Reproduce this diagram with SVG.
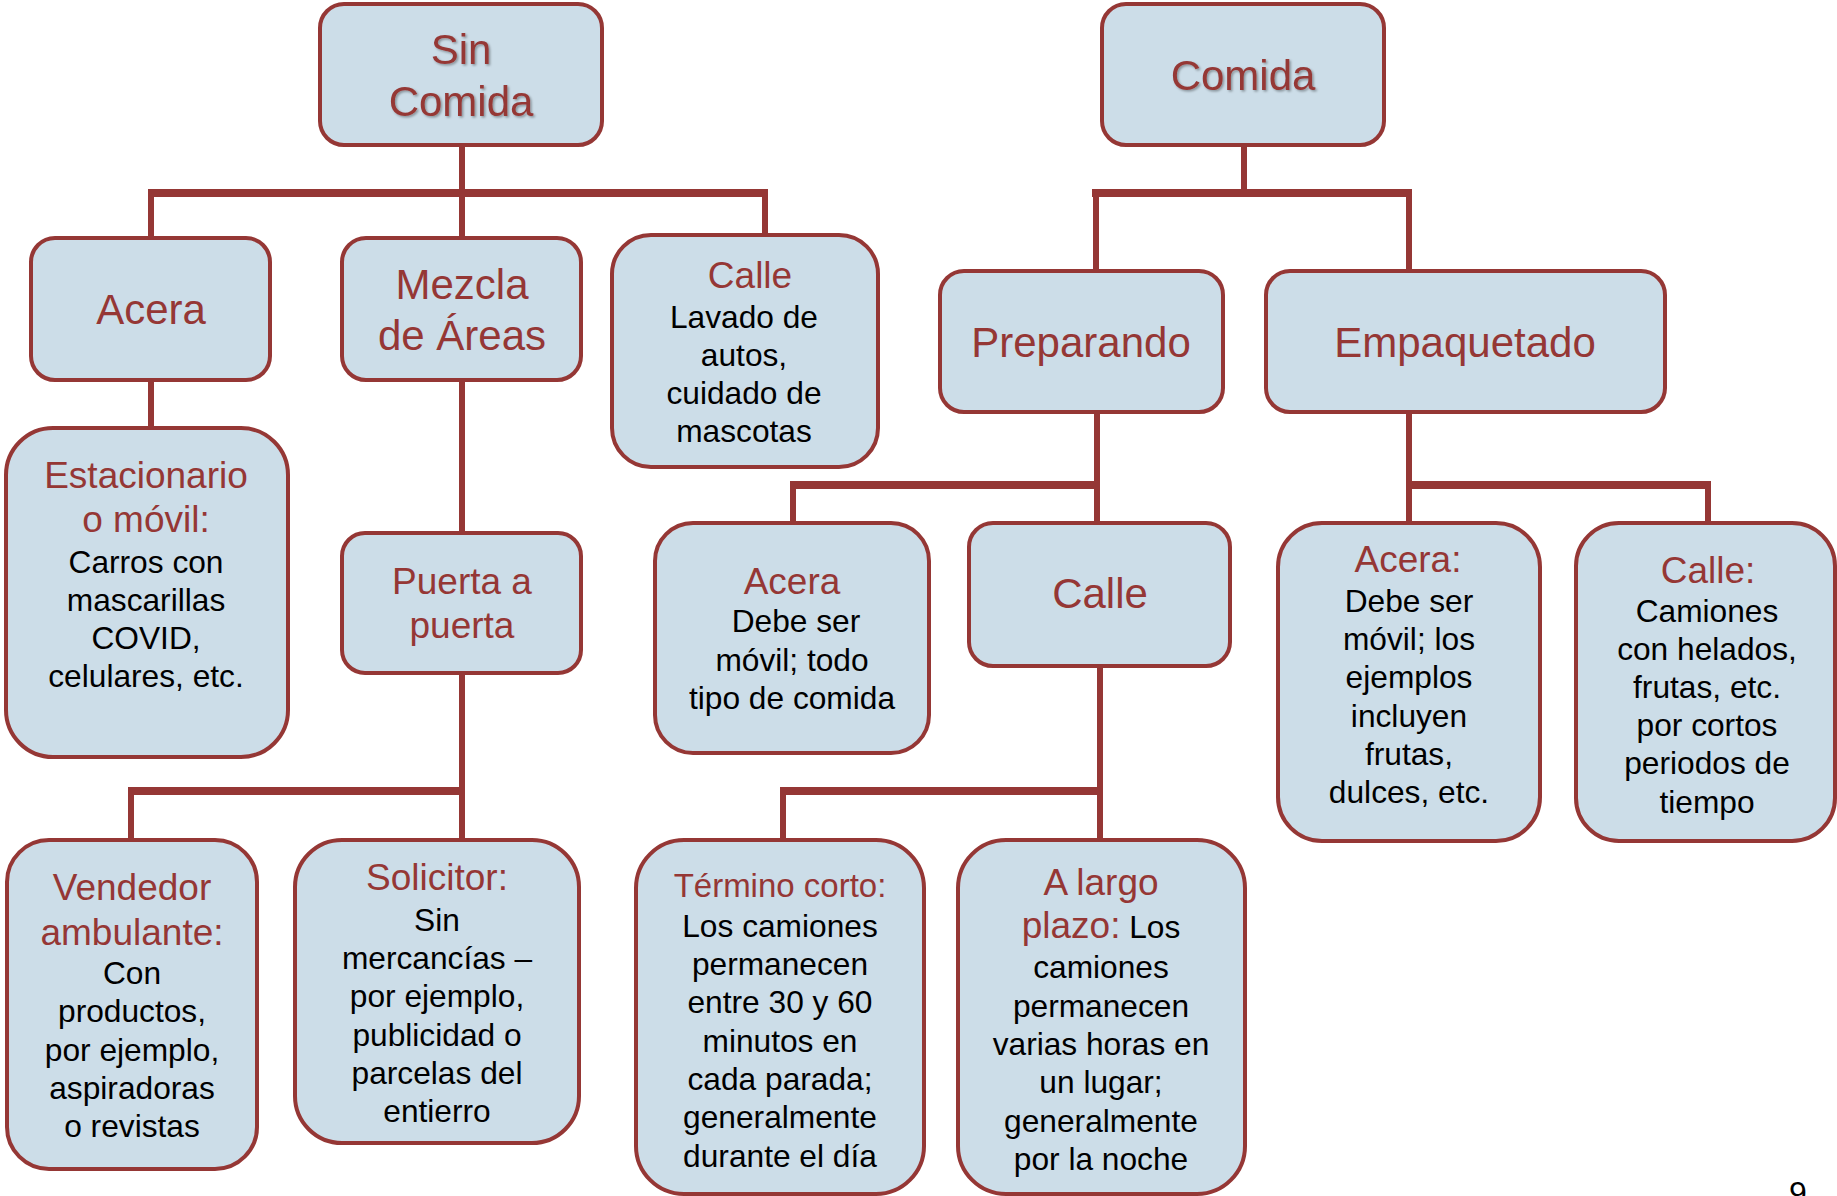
<svg xmlns="http://www.w3.org/2000/svg" width="1837" height="1196" viewBox="0 0 1837 1196">
<style>
.box{fill:#CCDDE8;stroke:#953735;stroke-width:4}
.ln{stroke:#953735;stroke-width:6;fill:none}
.bar{stroke:#953735;stroke-width:8;fill:none}
text{font-family:"Liberation Sans",Arial,sans-serif;text-anchor:middle}
.t1{font-size:42px;fill:#953735}
.t2{font-size:37px;fill:#953735}
.t3{font-size:33px;fill:#953735}
.b{font-size:31.7px;fill:#000}
</style>
<defs>
<filter id="sh" x="-10%" y="-10%" width="130%" height="140%">
<feDropShadow dx="1.5" dy="1.5" stdDeviation="1" flood-color="#000" flood-opacity="0.35"/>
</filter>
</defs>
<rect width="1837" height="1196" fill="#fff"/>
<g id="connectors">
<line class="ln" x1="462" y1="145" x2="462" y2="193"/>
<line class="bar" x1="148" y1="193" x2="768" y2="193"/>
<line class="ln" x1="151" y1="193" x2="151" y2="238"/>
<line class="ln" x1="462" y1="193" x2="462" y2="238"/>
<line class="ln" x1="765" y1="193" x2="765" y2="235"/>
<line class="ln" x1="151" y1="380" x2="151" y2="428"/>
<line class="ln" x1="462" y1="380" x2="462" y2="533"/>
<line class="ln" x1="462" y1="673" x2="462" y2="840"/>
<line class="bar" x1="128" y1="791" x2="465" y2="791"/>
<line class="ln" x1="131" y1="791" x2="131" y2="840"/>
<line class="ln" x1="1244" y1="145" x2="1244" y2="193"/>
<line class="bar" x1="1092" y1="193" x2="1412" y2="193"/>
<line class="ln" x1="1096" y1="193" x2="1096" y2="271"/>
<line class="ln" x1="1409" y1="193" x2="1409" y2="271"/>
<line class="ln" x1="1097" y1="412" x2="1097" y2="523"/>
<line class="bar" x1="790" y1="485" x2="1100" y2="485"/>
<line class="ln" x1="793" y1="485" x2="793" y2="523"/>
<line class="ln" x1="1100" y1="666" x2="1100" y2="840"/>
<line class="bar" x1="780" y1="791" x2="1103" y2="791"/>
<line class="ln" x1="783" y1="791" x2="783" y2="840"/>
<line class="ln" x1="1409" y1="412" x2="1409" y2="523"/>
<line class="bar" x1="1406" y1="485" x2="1711" y2="485"/>
<line class="ln" x1="1708" y1="485" x2="1708" y2="523"/>
</g>
<g id="sinComida">
<rect class="box" x="320" y="4" width="282" height="141" rx="24"/>
<text class="t1" filter="url(#sh)"><tspan x="461" y="64">Sin</tspan><tspan x="461" y="116">Comida</tspan></text>
</g>
<g id="comida">
<rect class="box" x="1102" y="4" width="282" height="141" rx="24"/>
<text class="t1" x="1243" y="90" filter="url(#sh)">Comida</text>
</g>
<g id="acera1">
<rect class="box" x="31" y="238" width="239" height="142" rx="24"/>
<text class="t1" x="151" y="324">Acera</text>
</g>
<g id="mezcla">
<rect class="box" x="342" y="238" width="239" height="142" rx="24"/>
<text class="t1"><tspan x="462" y="299">Mezcla</tspan><tspan x="462" y="350">de Áreas</tspan></text>
</g>
<g id="calle1">
<rect class="box" x="612" y="235" width="266" height="232" rx="39"/>
<text class="t2" x="750" y="288">Calle</text>
<text class="b"><tspan x="744" y="328">Lavado de</tspan><tspan x="744" y="366">autos,</tspan><tspan x="744" y="404">cuidado de</tspan><tspan x="744" y="442">mascotas</tspan></text>
</g>
<g id="preparando">
<rect class="box" x="940" y="271" width="283" height="141" rx="24"/>
<text class="t1" x="1081" y="357">Preparando</text>
</g>
<g id="empaquetado">
<rect class="box" x="1266" y="271" width="399" height="141" rx="24"/>
<text class="t1" x="1465" y="357">Empaquetado</text>
</g>
<g id="estacionario">
<rect class="box" x="6" y="428" width="282" height="329" rx="47"/>
<text class="t2"><tspan x="146" y="488">Estacionario</tspan><tspan x="146" y="532">o móvil:</tspan></text>
<text class="b"><tspan x="146" y="573">Carros con</tspan><tspan x="146" y="611">mascarillas</tspan><tspan x="146" y="649">COVID,</tspan><tspan x="146" y="687">celulares, etc.</tspan></text>
</g>
<g id="puerta">
<rect class="box" x="342" y="533" width="239" height="140" rx="23"/>
<text class="t2"><tspan x="462" y="594">Puerta a</tspan><tspan x="462" y="638">puerta</tspan></text>
</g>
<g id="acera2">
<rect class="box" x="655" y="523" width="274" height="230" rx="38"/>
<text class="t2" x="792" y="594">Acera</text>
<text class="b"><tspan x="796" y="632">Debe ser</tspan><tspan x="792" y="671">móvil; todo</tspan><tspan x="792" y="709">tipo de comida</tspan></text>
</g>
<g id="calle2">
<rect class="box" x="969" y="523" width="261" height="143" rx="24"/>
<text class="t1" x="1100" y="608">Calle</text>
</g>
<g id="acera3">
<rect class="box" x="1278" y="523" width="262" height="318" rx="44"/>
<text class="t2" x="1408" y="572">Acera:</text>
<text class="b"><tspan x="1409" y="612">Debe ser</tspan><tspan x="1409" y="650">móvil; los</tspan><tspan x="1409" y="688">ejemplos</tspan><tspan x="1409" y="727">incluyen</tspan><tspan x="1409" y="765">frutas,</tspan><tspan x="1409" y="803">dulces, etc.</tspan></text>
</g>
<g id="calle3">
<rect class="box" x="1576" y="523" width="259" height="318" rx="43"/>
<text class="t2" x="1708" y="583">Calle:</text>
<text class="b"><tspan x="1707" y="622">Camiones</tspan><tspan x="1707" y="660">con helados,</tspan><tspan x="1707" y="698">frutas, etc.</tspan><tspan x="1707" y="736">por cortos</tspan><tspan x="1707" y="774">periodos de</tspan><tspan x="1707" y="813">tiempo</tspan></text>
</g>
<g id="vendedor">
<rect class="box" x="7" y="840" width="250" height="329" rx="42"/>
<text class="t2"><tspan x="132" y="900">Vendedor</tspan><tspan x="132" y="945">ambulante:</tspan></text>
<text class="b"><tspan x="132" y="984">Con</tspan><tspan x="132" y="1022">productos,</tspan><tspan x="132" y="1061">por ejemplo,</tspan><tspan x="132" y="1099">aspiradoras</tspan><tspan x="132" y="1137">o revistas</tspan></text>
</g>
<g id="solicitor">
<rect class="box" x="295" y="840" width="284" height="303" rx="47"/>
<text class="t2" x="437" y="890">Solicitor:</text>
<text class="b"><tspan x="437" y="931">Sin</tspan><tspan x="437" y="969">mercancías –</tspan><tspan x="437" y="1007">por ejemplo,</tspan><tspan x="437" y="1046">publicidad o</tspan><tspan x="437" y="1084">parcelas del</tspan><tspan x="437" y="1122">entierro</tspan></text>
</g>
<g id="terminoCorto">
<rect class="box" x="636" y="840" width="288" height="354" rx="48"/>
<text class="t3" x="780" y="897">Término corto:</text>
<text class="b"><tspan x="780" y="937">Los camiones</tspan><tspan x="780" y="975">permanecen</tspan><tspan x="780" y="1013">entre 30 y 60</tspan><tspan x="780" y="1052">minutos en</tspan><tspan x="780" y="1090">cada parada;</tspan><tspan x="780" y="1128">generalmente</tspan><tspan x="780" y="1167">durante el día</tspan></text>
</g>
<g id="aLargoPlazo">
<rect class="box" x="958" y="840" width="287" height="354" rx="48"/>
<text class="t2" x="1101" y="895">A largo</text>
<text x="1101" y="938"><tspan class="t2">plazo:</tspan><tspan class="b"> Los</tspan></text>
<text class="b"><tspan x="1101" y="978">camiones</tspan><tspan x="1101" y="1017">permanecen</tspan><tspan x="1101" y="1055">varias horas en</tspan><tspan x="1101" y="1093">un lugar;</tspan><tspan x="1101" y="1132">generalmente</tspan><tspan x="1101" y="1170">por la noche</tspan></text>
</g>
<g id="pageNumber">
<text x="1798" y="1204" style="font-size:32px;fill:#000">9</text>
</g>
</svg>
